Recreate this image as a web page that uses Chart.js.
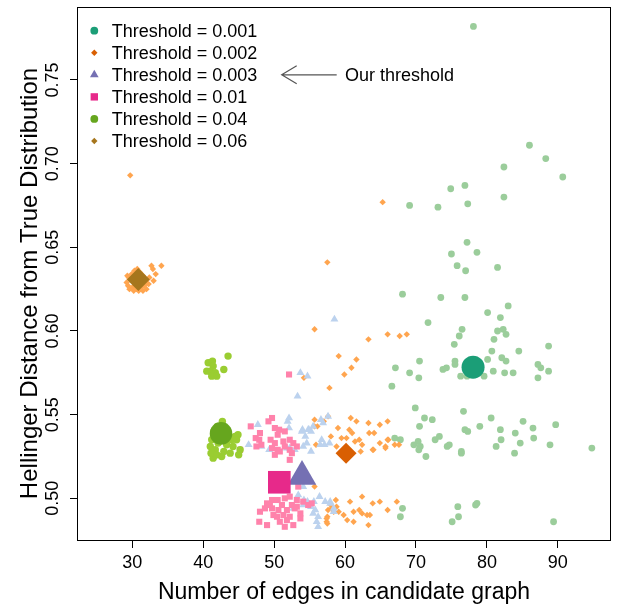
<!DOCTYPE html>
<html><head><meta charset="utf-8">
<script src="https://cdn.jsdelivr.net/npm/chart.js@4/dist/chart.umd.min.js"></script>
<style>html,body{margin:0;padding:0;background:#fff;} canvas{display:block;}</style>
</head><body>
<canvas id="c" width="618" height="605"></canvas>
<script>
const thresholds = ['0.001','0.002','0.003','0.01','0.04','0.06'];
const xTicks = [30,40,50,60,70,80,90];
const yTicks = [0.50,0.55,0.60,0.65,0.70,0.75];
const xTitle = 'Number of edges in candidate graph';
const yTitle = 'Hellinger Distance from True Distribution';

const pts001 = [[78.1,0.782],[86.0,0.711],[88.3,0.703],[90.7,0.692],[82.4,0.698],[74.9,0.685],[76.9,0.687],[77.3,0.676],[82.4,0.680],[69.1,0.675],[73.1,0.674],[77.2,0.653],[75.0,0.646],[78.6,0.647],[75.8,0.639],[77.0,0.636],[81.5,0.638],[68.1,0.622],[73.5,0.620],[76.9,0.620],[80.1,0.611],[83.0,0.615],[81.9,0.608],[71.7,0.605],[76.5,0.601],[76.1,0.597],[81.5,0.600],[82.3,0.601],[82.7,0.598],[81.0,0.595],[75.4,0.592],[80.7,0.588],[84.5,0.588],[88.7,0.591],[70.5,0.582],[67.1,0.578],[69.1,0.575],[70.4,0.572],[73.8,0.577],[74.3,0.578],[75.5,0.582],[75.5,0.580],[80.1,0.583],[82.1,0.584],[82.7,0.582],[80.9,0.576],[82.5,0.575],[83.7,0.575],[87.2,0.580],[87.6,0.578],[88.7,0.576],[87.2,0.572],[76.3,0.573],[77.2,0.573],[79.6,0.573],[66.6,0.567],[69.9,0.554],[71.2,0.548],[72.3,0.547],[76.7,0.552],[80.6,0.548],[85.1,0.546],[70.5,0.543],[79.0,0.543],[81.9,0.541],[84.0,0.539],[86.5,0.542],[89.7,0.544],[76.9,0.541],[77.3,0.540],[67.0,0.536],[67.8,0.535],[70.3,0.534],[69.7,0.532],[70.6,0.531],[70.4,0.529],[71.4,0.525],[72.7,0.535],[73.3,0.537],[74.4,0.531],[74.7,0.532],[76.4,0.528],[76.4,0.527],[82.0,0.535],[81.3,0.531],[84.7,0.533],[83.9,0.527],[86.6,0.536],[88.9,0.532],[94.8,0.530],[68.1,0.494],[67.8,0.489],[75.9,0.495],[76.0,0.489],[75.1,0.486],[78.4,0.496],[78.6,0.497],[89.4,0.486]];

const pts002 = [[55.7,0.601],[63.3,0.595],[66.0,0.598],[59.1,0.585],[61.6,0.583],[60.9,0.578],[59.9,0.574],[57.8,0.566],[54.2,0.572],[55.7,0.547],[55.7,0.543],[57.6,0.549],[60.8,0.548],[61.6,0.546],[63.3,0.545],[64.9,0.544],[66.0,0.546],[59.0,0.542],[58.0,0.537],[59.5,0.536],[60.2,0.536],[60.6,0.541],[61.0,0.539],[61.4,0.534],[62.0,0.535],[62.4,0.532],[63.4,0.539],[64.1,0.539],[64.9,0.533],[65.7,0.531],[63.9,0.529],[62.2,0.528],[58.8,0.531],[66.0,0.535],[55.9,0.532],[55.7,0.507],[58.7,0.499],[58.0,0.496],[58.1,0.494],[58.4,0.492],[57.6,0.493],[57.5,0.489],[57.4,0.486],[60.7,0.498],[62.4,0.501],[63.9,0.497],[64.9,0.498],[66.0,0.493],[61.2,0.492],[62.0,0.493],[62.4,0.491],[63.1,0.490],[63.5,0.490],[59.8,0.490],[60.3,0.487],[61.2,0.486],[63.3,0.484],[58.8,0.495],[59.1,0.492],[57.5,0.641],[65.3,0.677],[67.7,0.597],[68.7,0.598],[66.1,0.535],[65.7,0.530],[67.0,0.532],[67.6,0.532],[64.0,0.529],[67.3,0.498],[56.1,0.543],[57.0,0.546],[57.4,0.488],[57.5,0.485]];

const pts003 = [[58.5,0.607],[53.7,0.575],[54.7,0.573],[53.3,0.561],[52.1,0.548],[52.1,0.542],[57.6,0.549],[56.9,0.545],[47.7,0.544],[46.4,0.532],[54.0,0.541],[54.8,0.541],[54.4,0.537],[55.2,0.540],[54.6,0.533],[55.2,0.528],[54.1,0.531],[56.7,0.535],[57.1,0.532],[57.8,0.533],[56.5,0.532],[49.3,0.529],[52.2,0.530],[48.2,0.531],[53.4,0.502],[54.2,0.499],[54.7,0.498],[55.6,0.498],[56.4,0.501],[57.2,0.498],[57.9,0.498],[58.4,0.494],[55.2,0.495],[55.8,0.493],[56.2,0.489],[56.0,0.486],[56.2,0.483],[55.5,0.491],[54.1,0.507],[51.9,0.546],[54.9,0.541],[53.9,0.540],[52.9,0.529],[51.8,0.530],[54.1,0.496],[52.7,0.494],[57.9,0.497],[58.4,0.492],[56.6,0.547],[55.5,0.543]];

const pts01 = [[52.1,0.574],[49.7,0.548],[49.2,0.546],[46.7,0.543],[48.0,0.539],[47.4,0.536],[47.9,0.535],[50.1,0.542],[50.7,0.541],[51.5,0.540],[50.5,0.538],[49.5,0.535],[50.1,0.533],[51.3,0.534],[52.2,0.535],[52.7,0.533],[47.5,0.531],[48.2,0.532],[49.7,0.530],[50.5,0.529],[51.5,0.531],[50.1,0.526],[50.8,0.528],[52.2,0.529],[52.5,0.527],[53.2,0.531],[45.2,0.529],[52.2,0.523],[53.4,0.507],[49.0,0.497],[49.7,0.499],[50.5,0.499],[51.5,0.500],[52.2,0.501],[53.2,0.499],[54.1,0.498],[54.8,0.496],[48.0,0.492],[48.7,0.494],[49.7,0.494],[50.6,0.493],[51.8,0.493],[52.9,0.494],[53.7,0.491],[47.9,0.486],[49.0,0.484],[50.8,0.486],[51.8,0.487],[52.7,0.484],[53.7,0.488],[49.9,0.490],[51.3,0.490],[52.2,0.489],[49.4,0.496],[51.1,0.496],[52.5,0.496],[50.4,0.489],[53.2,0.495],[51.5,0.483],[55.3,0.497]];

const pts04 = [[43.5,0.585],[42.9,0.577],[40.7,0.581],[41.3,0.582],[41.4,0.579],[41.0,0.576],[40.5,0.576],[41.7,0.575],[41.2,0.573],[41.9,0.573],[42.7,0.546],[44.9,0.538],[44.7,0.535],[45.2,0.529],[45.0,0.526],[41.4,0.524],[42.6,0.525],[41.0,0.531],[41.7,0.529],[42.9,0.528],[43.8,0.527],[41.2,0.535],[42.1,0.533],[43.3,0.532],[44.2,0.531],[41.1,0.527],[41.9,0.526],[44.0,0.535],[44.5,0.537],[41.5,0.540],[42.0,0.543]];

const pts06 = [[29.7,0.693],[29.2,0.629],[29.4,0.627],[29.6,0.625],[29.8,0.631],[30.0,0.626],[30.2,0.624],[30.4,0.628],[30.6,0.625],[30.9,0.624],[31.2,0.626],[31.5,0.624],[31.7,0.627],[32.0,0.625],[29.5,0.632],[29.9,0.634],[30.3,0.636],[30.7,0.637],[31.1,0.635],[31.5,0.633],[31.9,0.630],[32.3,0.628],[32.4,0.632],[32.0,0.629],[32.9,0.637],[33.3,0.634],[33.0,0.630],[32.7,0.639],[34.1,0.639],[30.5,0.630],[31.3,0.629],[29.3,0.633]];

const meanX = [78.05, 60.14, 53.93, 50.73, 42.51, 30.85];
const meanY = [0.5784, 0.527, 0.5131, 0.5096, 0.5388, 0.6308];

const series = [pts001, pts002, pts003, pts01, pts04, pts06];
const lightColors = ['#9BCD9B','#FFA54F','#BCD2EE','#FF82AB','#9ACD32','#FFA54F'];
const darkColors = ['#1B9E77','#D95F02','#7570B3','#E7298A','#66A61E','#A6761D'];
const shapes = ['circle','rectRot','triangle','rect','circle','rectRot'];
const smallR = [3.4, 3.2, 4.6, 4.3, 3.7, 3.2];
const bigR = [11.5, 10.5, 16.5, 16, 11.3, 11.5];
const legendR = [3.9, 3.2, 5.0, 5.2, 3.9, 3.2];
const FONT = '"Liberation Sans", Arial, Helvetica, sans-serif';

const datasets = [];
series.forEach((pts, i) => {
  datasets.push({
    label: 'Threshold = ' + thresholds[i],
    data: pts.map(p => ({x: p[0], y: p[1]})),
    pointStyle: shapes[i], pointRadius: smallR[i], pointHoverRadius: smallR[i],
    backgroundColor: lightColors[i], borderWidth: 0, order: 10 - i
  });
});
series.forEach((pts, i) => {
  datasets.push({
    label: 'Mean ' + thresholds[i],
    data: [{x: meanX[i], y: meanY[i]}],
    pointStyle: shapes[i], pointRadius: bigR[i], pointHoverRadius: bigR[i],
    backgroundColor: darkColors[i], borderWidth: 0, order: -i
  });
});

const boxAndLegend = {
  id: 'boxAndLegend',
  afterDraw(chart) {
    const ctx = chart.ctx, ca = chart.chartArea;
    ctx.save();
    ctx.strokeStyle = '#000'; ctx.lineWidth = 1;
    ctx.strokeRect(Math.round(ca.left) + 0.5, Math.round(ca.top) + 0.5, Math.round(ca.right - ca.left) - 1, Math.round(ca.bottom - ca.top) - 1);
    // y-axis title
    ctx.save();
    ctx.translate(30, (ca.top + ca.bottom) / 2 + 9.5);
    ctx.rotate(-Math.PI / 2);
    ctx.font = '24px ' + FONT;
    ctx.fillStyle = '#000'; ctx.textAlign = 'center'; ctx.textBaseline = 'middle';
    ctx.fillText(yTitle, 0, 0);
    ctx.restore();
    // legend
    ctx.font = '18px ' + FONT;
    ctx.textBaseline = 'middle'; ctx.textAlign = 'left';
    for (let i = 0; i < thresholds.length; i++) {
      const y = ca.top + 23.7 + i * 22.06;
      ctx.fillStyle = darkColors[i];
      Chart.helpers.drawPoint(ctx, {pointStyle: shapes[i], radius: legendR[i], rotation: 0, borderWidth: 0}, ca.left + 17.3, y);
      ctx.fillStyle = '#000';
      ctx.fillText('Threshold = ' + thresholds[i], ca.left + 34.7, y + 1);
    }
    const ay = ca.top + 23.7 + 2 * 22.06;
    const ax0 = ca.left + 204.7, ax1 = ca.left + 259.7;
    ctx.strokeStyle = '#555'; ctx.lineWidth = 1.2;
    ctx.beginPath();
    ctx.moveTo(ax1, ay); ctx.lineTo(ax0, ay);
    ctx.moveTo(ax0 + 15, ay - 9); ctx.lineTo(ax0, ay); ctx.lineTo(ax0 + 15, ay + 9);
    ctx.stroke();
    ctx.fillStyle = '#000';
    ctx.fillText('Our threshold', ca.left + 268, ay + 1);
    ctx.restore();
  }
};

new Chart(document.getElementById('c'), {
  type: 'scatter',
  data: { datasets },
  options: {
    responsive: false, animation: false,
    layout: { autoPadding: false, padding: { top: 7, right: 7, left: 0, bottom: 0 } },
    plugins: { legend: { display: false }, tooltip: { enabled: false } },
    scales: {
      x: {
        type: 'linear', min: 22.2, max: 97.5,
        afterBuildTicks: s => { s.ticks = xTicks.map(v => ({ value: v })); },
        afterFit: s => { s.height = 64; s.paddingLeft = 0; s.paddingRight = 0; },
        grid: { drawOnChartArea: false, drawTicks: true, tickLength: 7, tickColor: '#000', tickWidth: 1 },
        border: { display: false },
        ticks: { font: { family: FONT, size: 18 }, color: '#000', padding: 4, maxRotation: 0, autoSkip: false, callback: v => String(v) },
        title: { display: true, text: xTitle, color: '#000', font: { family: FONT, size: 23, lineHeight: 1 }, padding: { top: 0, bottom: 1 } }
      },
      y: {
        type: 'linear', min: 0.4745, max: 0.7936,
        afterBuildTicks: s => { s.ticks = yTicks.map(v => ({ value: v })); },
        afterFit: s => { s.width = 77; s.paddingTop = 0; s.paddingBottom = 0; },
        grid: { drawOnChartArea: false, drawTicks: true, tickLength: 7, tickColor: '#000', tickWidth: 1 },
        border: { display: false },
        ticks: { font: { family: FONT, size: 18 }, color: '#000', padding: -1, minRotation: 90, maxRotation: 90, crossAlign: 'center', autoSkip: false, callback: v => v.toFixed(2) },
        title: { display: false }
      }
    }
  },
  plugins: [boxAndLegend]
});
</script>
</body></html>
